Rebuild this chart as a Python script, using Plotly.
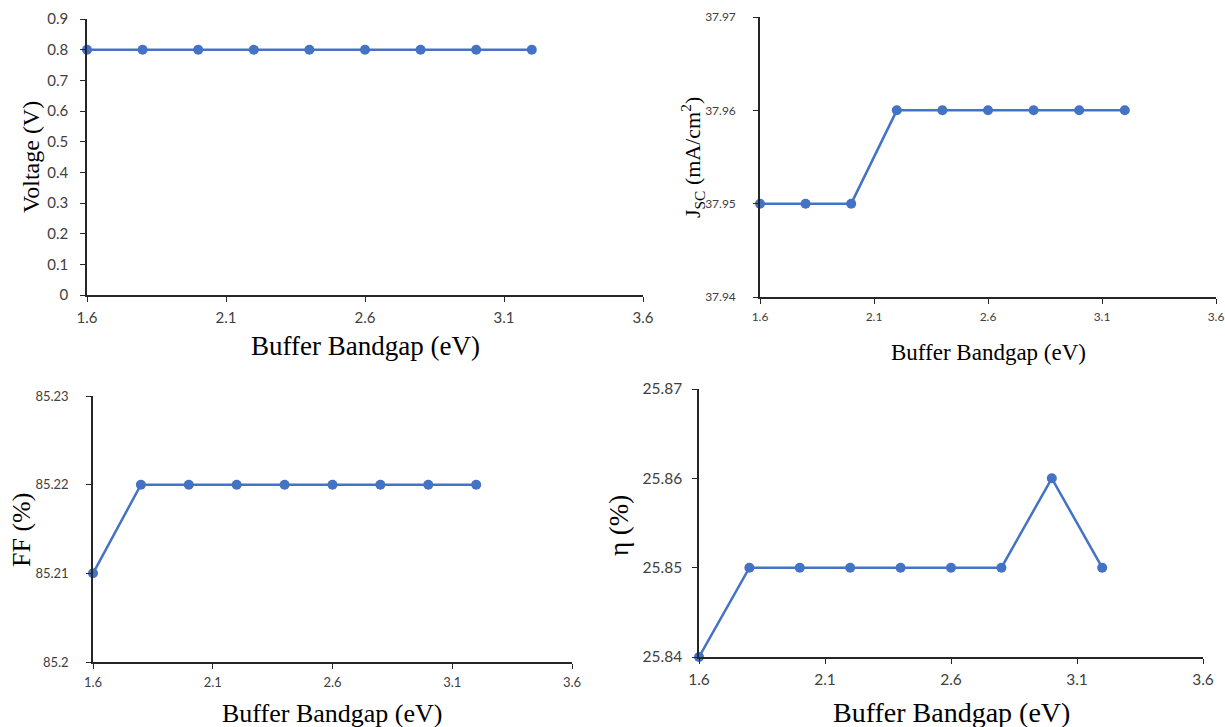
import plotly.graph_objects as go

W, H = 1225, 727
bandgap = [1.6, 1.8, 2.0, 2.2, 2.4, 2.6, 2.8, 3.0, 3.2]
voltage = [0.8, 0.8, 0.8, 0.8, 0.8, 0.8, 0.8, 0.8, 0.8]
jsc = [37.95, 37.95, 37.95, 37.96, 37.96, 37.96, 37.96, 37.96, 37.96]
ff = [85.21, 85.22, 85.22, 85.22, 85.22, 85.22, 85.22, 85.22, 85.22]
eta = [25.84, 25.85, 25.85, 25.85, 25.85, 25.85, 25.85, 25.86, 25.85]

x_ticks = [1.6, 2.1, 2.6, 3.1, 3.6]
x_ticktext = ["1.6", "2.1", "2.6", "3.1", "3.6"]
v_ticks = [0, 0.1, 0.2, 0.3, 0.4, 0.5, 0.6, 0.7, 0.8, 0.9]
v_ticktext = ["0", "0.1", "0.2", "0.3", "0.4", "0.5", "0.6", "0.7", "0.8", "0.9"]
jsc_ticks = [37.94, 37.95, 37.96, 37.97]
jsc_ticktext = ["37.94", "37.95", "37.96", "37.97"]
ff_ticks = [85.2, 85.21, 85.22, 85.23]
ff_ticktext = ["85.2", "85.21", "85.22", "85.23"]
eta_ticks = [25.84, 25.85, 25.86, 25.87]
eta_ticktext = ["25.84", "25.85", "25.86", "25.87"]

BLUE = "#4472C4"
AXC = "#262626"
SANS = "Lato, Carlito, sans-serif"
SERIF = "Liberation Serif, Times New Roman, serif"

# panel boxes in pixels: (left, right, top, bottom), tick font size, y label standoff
panels = [
    (87, 643, 19, 295, 15, 9),
    (760, 1216, 17, 297, 12, 15),
    (93, 572, 396, 662, 13, 15),
    (699, 1203, 389, 657, 15.5, 7),
]
series = [voltage, jsc, ff, eta]
yticks = [(v_ticks, v_ticktext), (jsc_ticks, jsc_ticktext), (ff_ticks, ff_ticktext), (eta_ticks, eta_ticktext)]

fig = go.Figure()
layout = {}
for i, ((l, r, t, b, fs, ysd), ys, (tv, tt)) in enumerate(zip(panels, series, yticks)):
    n = "" if i == 0 else str(i + 1)
    tf = dict(family=SANS, size=fs, color="#404040")
    fig.add_trace(go.Scatter(
        x=bandgap, y=ys, mode="lines+markers",
        line=dict(color=BLUE, width=2.5), marker=dict(color=BLUE, size=10),
        xaxis="x" + n, yaxis="y" + n, cliponaxis=False, showlegend=False))
    layout["xaxis" + n] = dict(
        domain=[l / W, r / W], anchor="y" + n, range=[1.6, 3.6], automargin=False,
        ticklabeloverflow="allow", ticklabelstandoff=3,
        tickvals=x_ticks, ticktext=x_ticktext, showline=True, linecolor=AXC, linewidth=1.5,
        ticks="outside", ticklen=5, tickcolor=AXC, tickfont=tf, showgrid=False, zeroline=False)
    layout["yaxis" + n] = dict(
        domain=[1 - b / H, 1 - t / H], anchor="x" + n, range=[tv[0], tv[-1]], automargin=False,
        ticklabeloverflow="allow", ticklabelstandoff=ysd,
        tickvals=tv, ticktext=tt, showline=True, linecolor=AXC, linewidth=1.5,
        ticks="outside", ticklen=5, tickcolor=AXC, tickfont=tf, showgrid=False, zeroline=False)

def ann(text, x, y, size, angle=0):
    return dict(text=text, x=x / W, y=1 - y / H, xref="paper", yref="paper", showarrow=False,
                textangle=angle, font=dict(family=SERIF, size=size, color="#000"),
                xanchor="center", yanchor="middle")

annotations = [
    ann("Buffer Bandgap (eV)", 366, 346, 27),
    ann("Buffer Bandgap (eV)", 988, 352, 23),
    ann("Buffer Bandgap (eV)", 332, 713, 26),
    ann("Buffer Bandgap (eV)", 951, 712, 28),
    ann("Voltage (V)", 31, 157, 24, -90),
    ann("J<sub>SC</sub> (mA/cm<sup>2</sup>)", 692, 158, 22, -90),
    ann("FF (%)", 21, 530, 26, -90),
    ann("η (%)", 619, 525, 27, -90),
]

fig.update_layout(width=W, height=H, autosize=False, margin=dict(l=0, r=0, t=0, b=0),
                  template="none",
                  plot_bgcolor="white", paper_bgcolor="white", annotations=annotations, **layout)
fig.write_html("out.html")
